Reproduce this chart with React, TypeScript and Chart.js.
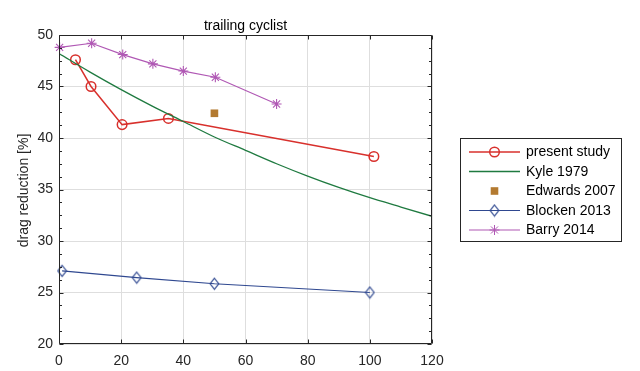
import React, { useEffect, useRef } from 'react';
import { Chart, registerables } from 'chart.js';

Chart.register(...registerables);

// ---------- data ----------
const chartTitle = 'trailing cyclist';
const yAxisLabel = 'drag reduction [%]';

const presentLabel = 'present study';
const presentX = [5.3, 10.3, 20.3, 35.2, 101.3];
const presentY = [47.6, 45.0, 41.3, 41.9, 38.2];

const kyleLabel = 'Kyle 1979';
const kyleX = [0, 10, 20, 30, 40, 50, 60, 70, 80, 90, 100, 110, 120];
const kyleY = [48.2, 46.4, 44.7, 43.1, 41.6, 40.1, 38.8, 37.5, 36.3, 35.2, 34.2, 33.3, 32.4];

const edwardsLabel = 'Edwards 2007';
const edwardsX = [50];
const edwardsY = [42.4];

const blockenLabel = 'Blocken 2013';
const blockenX = [1, 25, 50, 100];
const blockenY = [27.1, 26.45, 25.85, 25.0];

const barryLabel = 'Barry 2014';
const barryX = [0.2, 10.5, 20.5, 30.2, 40, 50.3, 70];
const barryY = [48.8, 49.2, 48.1, 47.2, 46.5, 45.9, 43.3];

const xMin = 0, xMax = 120, xStep = 20;
const yMin = 20, yMax = 50, yStep = 5, yMinorStep = 1.25;

// ---------- styles ----------
const FONT = '"Liberation Sans", Arial, Helvetica, sans-serif';
const RED = '#d8302c';
const GREEN = '#1f7a40';
const BROWN = '#b37a30';
const BLUE = '#2f4890';
const PURPLE = '#b058b4';
const AXIS = '#262626';
const GRID = 'rgb(222,222,222)';

const pts = (xs: number[], ys: number[]) => xs.map((x, i) => ({ x, y: ys[i] }));

function makeDiamond(color: string): HTMLCanvasElement {
  const c = document.createElement('canvas');
  c.width = 11;
  c.height = 14;
  const ctx = c.getContext('2d')!;
  ctx.strokeStyle = color;
  ctx.lineWidth = 1.2;
  ctx.beginPath();
  ctx.moveTo(5.5, 1.5);
  ctx.lineTo(9.8, 7);
  ctx.lineTo(5.5, 12.5);
  ctx.lineTo(1.2, 7);
  ctx.closePath();
  ctx.stroke();
  return c;
}

function drawMarker(ctx: CanvasRenderingContext2D, kind: string, x: number, y: number, color: string, diamond: HTMLCanvasElement) {
  ctx.save();
  if (kind === 'circle') {
    ctx.strokeStyle = color;
    ctx.lineWidth = 1.5;
    ctx.beginPath();
    ctx.arc(x, y, 4.8, 0, Math.PI * 2);
    ctx.stroke();
  } else if (kind === 'rect') {
    ctx.fillStyle = color;
    ctx.fillRect(x - 3.8, y - 3.8, 7.6, 7.6);
  } else if (kind === 'diamond') {
    ctx.drawImage(diamond, x - diamond.width / 2, y - diamond.height / 2);
  } else if (kind === 'star') {
    ctx.strokeStyle = color;
    ctx.lineWidth = 1;
    const r = 5;
    ctx.beginPath();
    for (let k = 0; k < 4; k++) {
      const a = (k * Math.PI) / 4;
      ctx.moveTo(x - r * Math.cos(a), y - r * Math.sin(a));
      ctx.lineTo(x + r * Math.cos(a), y + r * Math.sin(a));
    }
    ctx.stroke();
  }
  ctx.restore();
}

export default function App() {
  const ref = useRef<HTMLCanvasElement | null>(null);

  useEffect(() => {
    if (!ref.current) return;
    const diamond = makeDiamond(BLUE);

    const legendItems = [
      { label: presentLabel, color: RED, line: true, width: 1.5, marker: 'circle' },
      { label: kyleLabel, color: GREEN, line: true, width: 1.3, marker: '' },
      { label: edwardsLabel, color: BROWN, line: false, width: 0, marker: 'rect' },
      { label: blockenLabel, color: BLUE, line: true, width: 1.2, marker: 'diamond' },
      { label: barryLabel, color: PURPLE, line: true, width: 1.2, marker: 'star' },
    ];

    const decor = {
      id: 'decor',
      afterDatasetsDraw(chart: any) {
        const { ctx, chartArea } = chart;
        const xs = chart.scales.x;
        const ys = chart.scales.y;
        const L = Math.round(chartArea.left) + 0.5;
        const R = Math.round(chartArea.right) - 0.5;
        const T = Math.round(chartArea.top) + 0.5;
        const B = Math.round(chartArea.bottom) - 0.5;
        ctx.save();
        ctx.strokeStyle = AXIS;
        ctx.lineWidth = 1;
        ctx.beginPath();
        ctx.rect(L, T, R - L, B - T);
        for (let v = xMin; v <= xMax + 1e-9; v += xStep) {
          const px = Math.round(xs.getPixelForValue(v)) + 0.5;
          ctx.moveTo(px, B);
          ctx.lineTo(px, B - 4);
          ctx.moveTo(px, T);
          ctx.lineTo(px, T + 4);
        }
        for (let v = yMin; v <= yMax + 1e-9; v += yMinorStep) {
          const py = Math.round(ys.getPixelForValue(v)) + 0.5;
          const major = Math.abs(v / yStep - Math.round(v / yStep)) < 1e-6;
          const len = major ? 4 : 2.5;
          ctx.moveTo(L, py);
          ctx.lineTo(L + len, py);
          ctx.moveTo(R, py);
          ctx.lineTo(R - len, py);
        }
        ctx.stroke();
        ctx.restore();
      },
      afterDraw(chart: any) {
        const { ctx, chartArea } = chart;
        ctx.save();
        // title
        ctx.fillStyle = '#000';
        ctx.font = `14px ${FONT}`;
        ctx.textAlign = 'center';
        ctx.textBaseline = 'alphabetic';
        ctx.fillText(chartTitle, (chartArea.left + chartArea.right) / 2, 30);
        // y axis label
        ctx.save();
        ctx.translate(24, (chartArea.top + chartArea.bottom) / 2 + 1);
        ctx.rotate(-Math.PI / 2);
        ctx.fillStyle = AXIS;
        ctx.textBaseline = 'middle';
        ctx.fillText(yAxisLabel, 0, 0);
        ctx.restore();
        // legend
        const bx = 460.5, by = 138.5, bw = 161, bh = 103;
        ctx.fillStyle = '#fff';
        ctx.fillRect(bx, by, bw, bh);
        ctx.strokeStyle = AXIS;
        ctx.lineWidth = 1;
        ctx.strokeRect(bx, by, bw, bh);
        ctx.textAlign = 'left';
        ctx.textBaseline = 'middle';
        legendItems.forEach((it, i) => {
          const y = 152 + i * 19.5;
          if (it.line) {
            ctx.strokeStyle = it.color;
            ctx.lineWidth = it.width;
            ctx.beginPath();
            ctx.moveTo(469, y);
            ctx.lineTo(520, y);
            ctx.stroke();
          }
          if (it.marker) drawMarker(ctx, it.marker, 494.5, y, it.color, diamond);
          ctx.fillStyle = '#000';
          ctx.font = `14px ${FONT}`;
          ctx.fillText(it.label, 526, y + 0.5);
        });
        ctx.restore();
      },
    };

    const chart = new Chart(ref.current, {
      type: 'line',
      data: {
        datasets: [
          {
            label: kyleLabel,
            data: pts(kyleX, kyleY),
            borderColor: GREEN,
            borderWidth: 1.3,
            pointRadius: 0,
            cubicInterpolationMode: 'monotone',
            fill: false,
          },
          {
            label: presentLabel,
            data: pts(presentX, presentY),
            borderColor: RED,
            borderWidth: 1.5,
            pointStyle: 'circle',
            pointRadius: 4.8,
            pointBorderWidth: 1.5,
            pointBorderColor: RED,
            pointBackgroundColor: 'rgba(0,0,0,0)',
            fill: false,
            clip: false,
          },
          {
            label: edwardsLabel,
            data: pts(edwardsX, edwardsY),
            showLine: false,
            borderColor: BROWN,
            backgroundColor: BROWN,
            pointStyle: 'rect',
            pointRadius: 5.4,
            pointBorderWidth: 0,
            pointBackgroundColor: BROWN,
            clip: false,
          },
          {
            label: blockenLabel,
            data: pts(blockenX, blockenY),
            borderColor: BLUE,
            borderWidth: 1.2,
            pointStyle: diamond,
            pointRadius: 5,
            fill: false,
            clip: false,
          },
          {
            label: barryLabel,
            data: pts(barryX, barryY),
            borderColor: PURPLE,
            borderWidth: 1.2,
            pointStyle: 'star',
            pointRadius: 5,
            pointBorderWidth: 1.1,
            pointBorderColor: PURPLE,
            pointBackgroundColor: PURPLE,
            fill: false,
            clip: false,
          },
        ] as any,
      },
      options: {
        responsive: false,
        animation: false,
        devicePixelRatio: 1,
        layout: { padding: { top: 35, right: 208, bottom: 0, left: 0 } },
        plugins: {
          legend: { display: false },
          tooltip: { enabled: false },
          title: { display: false },
        },
        scales: {
          x: {
            type: 'linear',
            min: xMin,
            max: xMax,
            ticks: {
              stepSize: xStep,
              color: AXIS,
              padding: 9,
              font: { family: FONT, size: 14 },
              maxRotation: 0,
            },
            grid: { color: GRID, drawTicks: false, lineWidth: 1 },
            border: { display: false },
            afterFit: (s: any) => { s.height = 27; },
          },
          y: {
            type: 'linear',
            min: yMin,
            max: yMax,
            ticks: {
              stepSize: yStep,
              color: AXIS,
              padding: 6,
              font: { family: FONT, size: 14 },
            },
            grid: { color: GRID, drawTicks: false, lineWidth: 1 },
            border: { display: false },
            afterFit: (s: any) => { s.width = 59; },
          },
        },
      } as any,
      plugins: [decor],
    });
    return () => chart.destroy();
  }, []);

  return (
    <div style={{ position: 'absolute', left: 0, top: 0, width: 640, height: 371, background: '#fff' }}>
      <canvas ref={ref} width={640} height={371} style={{ width: 640, height: 371, display: 'block' }} />
    </div>
  );
}
